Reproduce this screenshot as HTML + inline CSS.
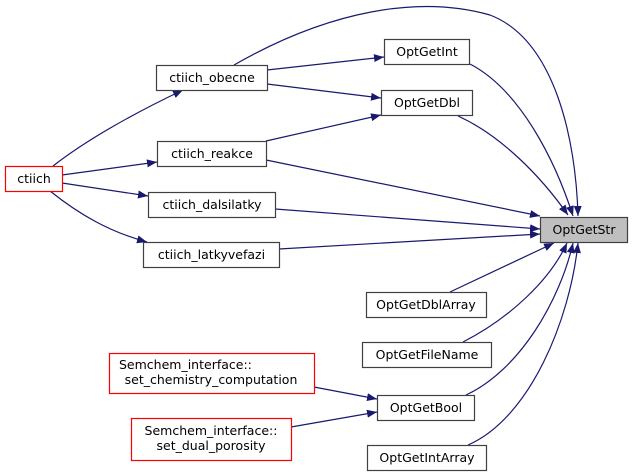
<!DOCTYPE html>
<html><head><style>
html,body{margin:0;padding:0;background:#fff;}
svg{display:block;}
text{font-family:"DejaVu Sans","Liberation Sans",sans-serif;font-size:12.5px;fill:#000;}
</style></head><body>
<svg width="632" height="476" viewBox="0 0 632 476" xmlns="http://www.w3.org/2000/svg">
<defs>
<marker id="a" viewBox="0 0 10 8" refX="10" refY="4" markerWidth="10" markerHeight="8" markerUnits="userSpaceOnUse" orient="auto">
<path d="M0,0 L10,4 L0,8 z" fill="#191970"/>
</marker>
</defs>
<g fill="none" stroke="#191970" stroke-width="1.2" marker-end="url(#a)">
<path d="M53,166 C80,145 120,120 183,90"/>
<path d="M62,175 L157,162"/>
<path d="M62,183 L148,196"/>
<path d="M50,191 C80,215 110,232 147,242"/>
<path d="M267,70 L384,57"/>
<path d="M267,84 L381,98"/>
<path d="M266,141 L381,115"/>
<path d="M234,65 C330,10 420,-5 490,15 C555,40 576,140 578,216"/>
<path d="M470,64 C520,90 555,160 573,216"/>
<path d="M458,116 C500,135 540,175 568,215"/>
<path d="M266,160 L540,216"/>
<path d="M275,209 L540,229"/>
<path d="M279,249 L540,234"/>
<path d="M450,292 L554,243"/>
<path d="M463,342 C510,318 550,280 567,243"/>
<path d="M466,395 C520,370 560,300 573,243"/>
<path d="M468,445 C530,418 570,320 578,243"/>
<path d="M314,387 L377,399"/>
<path d="M291,427 L377,412"/>
</g>
<g stroke-width="1.2">
<rect x="5.5" y="166.5" width="57" height="25" fill="#fff" stroke="#ff0000"/>
<rect x="156.5" y="65.5" width="111" height="25" fill="#fff" stroke="#404040"/>
<rect x="157.5" y="141.5" width="109" height="25" fill="#fff" stroke="#404040"/>
<rect x="148.5" y="192.5" width="127" height="25" fill="#fff" stroke="#404040"/>
<rect x="143.5" y="242.5" width="136" height="25" fill="#fff" stroke="#404040"/>
<rect x="384.5" y="39.5" width="85" height="25" fill="#fff" stroke="#404040"/>
<rect x="381.5" y="90.5" width="91" height="25" fill="#fff" stroke="#404040"/>
<rect x="540.5" y="217.5" width="87" height="25" fill="#bfbfbf" stroke="#404040"/>
<rect x="366.5" y="292.5" width="120" height="25" fill="#fff" stroke="#404040"/>
<rect x="362.5" y="342.5" width="129" height="25" fill="#fff" stroke="#404040"/>
<rect x="377.5" y="395.5" width="97" height="25" fill="#fff" stroke="#404040"/>
<rect x="367.5" y="445.5" width="119" height="25" fill="#fff" stroke="#404040"/>
<rect x="109.5" y="353.5" width="205" height="40" fill="#fff" stroke="#ff0000"/>
<rect x="131.5" y="418.5" width="160" height="42" fill="#fff" stroke="#ff0000"/>
</g>
<g text-anchor="middle">
<text x="34" y="183">ctiich</text>
<text x="212" y="82">ctiich_obecne</text>
<text x="212" y="158">ctiich_reakce</text>
<text x="212" y="209">ctiich_dalsilatky</text>
<text x="211.5" y="259">ctiich_latkyvefazi</text>
<text x="427" y="56">OptGetInt</text>
<text x="427" y="107">OptGetDbl</text>
<text x="584" y="234">OptGetStr</text>
<text x="426" y="309">OptGetDblArray</text>
<text x="427" y="359">OptGetFileName</text>
<text x="426" y="412">OptGetBool</text>
<text x="427" y="462">OptGetIntArray</text>
</g>
<text x="119" y="369">Semchem_interface::</text>
<text x="211" y="384" text-anchor="middle">set_chemistry_computation</text>
<text x="211" y="435" text-anchor="middle">Semchem_interface::</text>
<text x="211" y="450" text-anchor="middle">set_dual_porosity</text>
</svg>
</body></html>
